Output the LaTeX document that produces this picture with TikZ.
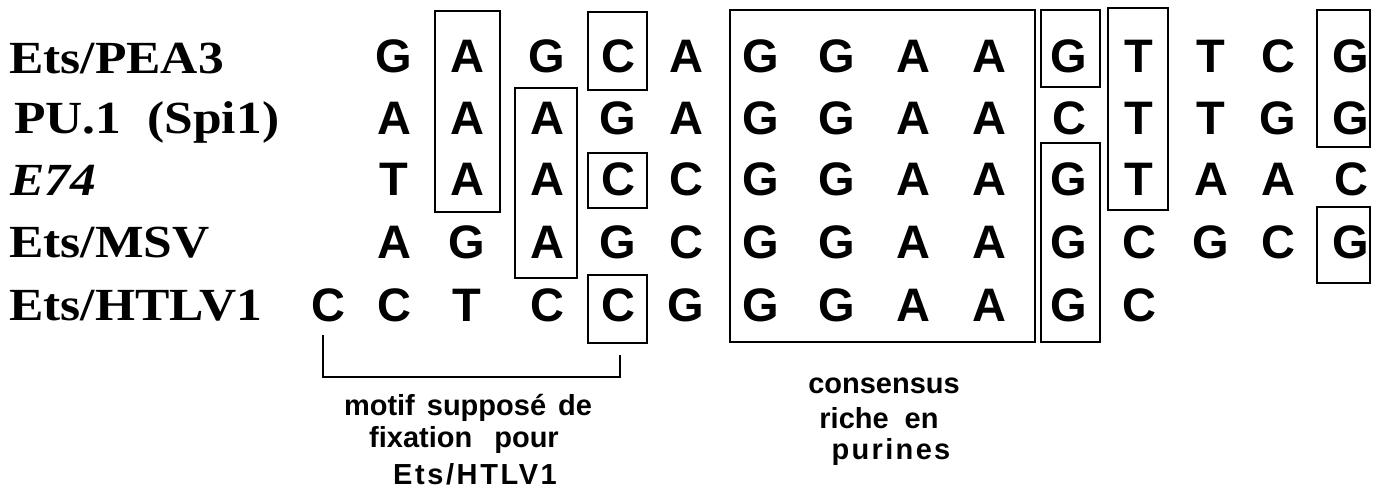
\documentclass[tikz,border=0pt]{standalone}
\usepackage{fontspec}
\newfontfamily\seqfont{Liberation Sans}
\newfontfamily\labfont{Liberation Serif}[FakeStretch=1.12]
\tikzset{
  lab/.style={anchor=base west, inner sep=0pt, font=\labfont\bfseries\fontsize{46}{50}\selectfont},
  nt/.style={anchor=base, inner sep=0pt, font=\seqfont\bfseries\fontsize{47}{52}\selectfont},
  bx/.style={draw, line width=1.8pt},
  note/.style={anchor=base, inner sep=0pt, font=\seqfont\bfseries\fontsize{29}{32}\selectfont},
  brk/.style={draw, line width=1.8pt}
}
\begin{document}
\begin{tikzpicture}[x=1pt,y=-1pt]
\useasboundingbox (0,0) rectangle (1381,498);
% labels
\node[lab] (l1) at (9,73) {Ets/PEA3};
\node[lab] (l2) at (14,133) {PU.1\hspace{26pt}(Spi1)};
\node[lab] (l3) at (10,195) {\itshape E74};
\node[lab] (l4) at (9,257) {Ets/MSV};
\node[lab] (l5) at (9,320) {Ets/HTLV1};
% columns
\def\cx{{328,394,467,547,618,686,761,837,913,989,1069,1139,1211,1278,1351}}
\foreach \s [count=\i from 1] in {G,A,G,C,A,G,G,A,A,G,T,T,C,G}
  \node[nt] (r1c\i) at ({\cx[\i]},72) {\s};
\foreach \s [count=\i from 1] in {A,A,A,G,A,G,G,A,A,C,T,T,G,G}
  \node[nt] (r2c\i) at ({\cx[\i]},134) {\s};
\foreach \s [count=\i from 1] in {T,A,A,C,C,G,G,A,A,G,T,A,A,C}
  \node[nt] (r3c\i) at ({\cx[\i]},195.5) {\s};
\foreach \s [count=\i from 1] in {A,G,A,G,C,G,G,A,A,G,C,G,C,G}
  \node[nt] (r4c\i) at ({\cx[\i]},258) {\s};
\foreach \s [count=\i from 0] in {C,C,T,C,C,G,G,G,A,A,G,C}
  \node[nt] (r5c\i) at ({\cx[\i]},321) {\s};
% boxes
\draw[bx] (435,11) rectangle (500,212);
\draw[bx] (588,12) rectangle (647,90);
\draw[bx] (515,88) rectangle (577,278);
\draw[bx] (588,153) rectangle (647,208);
\draw[bx] (588,275) rectangle (647,343);
\draw[bx] (730,10) rectangle (1035,342);
\draw[bx] (1041,10) rectangle (1100,87);
\draw[bx] (1041,143) rectangle (1100,342);
\draw[bx] (1108,8) rectangle (1168,210);
\draw[bx] (1317,10) rectangle (1370,147);
\draw[bx] (1317,207) rectangle (1370,283);
% bracket
\coordinate (bl) at (323,335);
\coordinate (br) at (620,355);
\draw[brk] (bl) |- (620,377) -- (br);
% notes
\node[note] (m1) at (468,415) {motif\hspace{12pt}supposé\hspace{12pt}de};
\node[note] (m2) at (464,447) {fixation\hspace{22pt}pour};
\node[note] (m3) at (475,484) {\addfontfeature{LetterSpace=9}Ets/HTLV1};
\node[note] (c1) at (884,393) {consensus};
\node[note] (c2) at (879,428) {riche\hspace{16pt}en};
\node[note] (c3) at (891,459) {\addfontfeature{LetterSpace=8}purines};
\end{tikzpicture}
\end{document}
